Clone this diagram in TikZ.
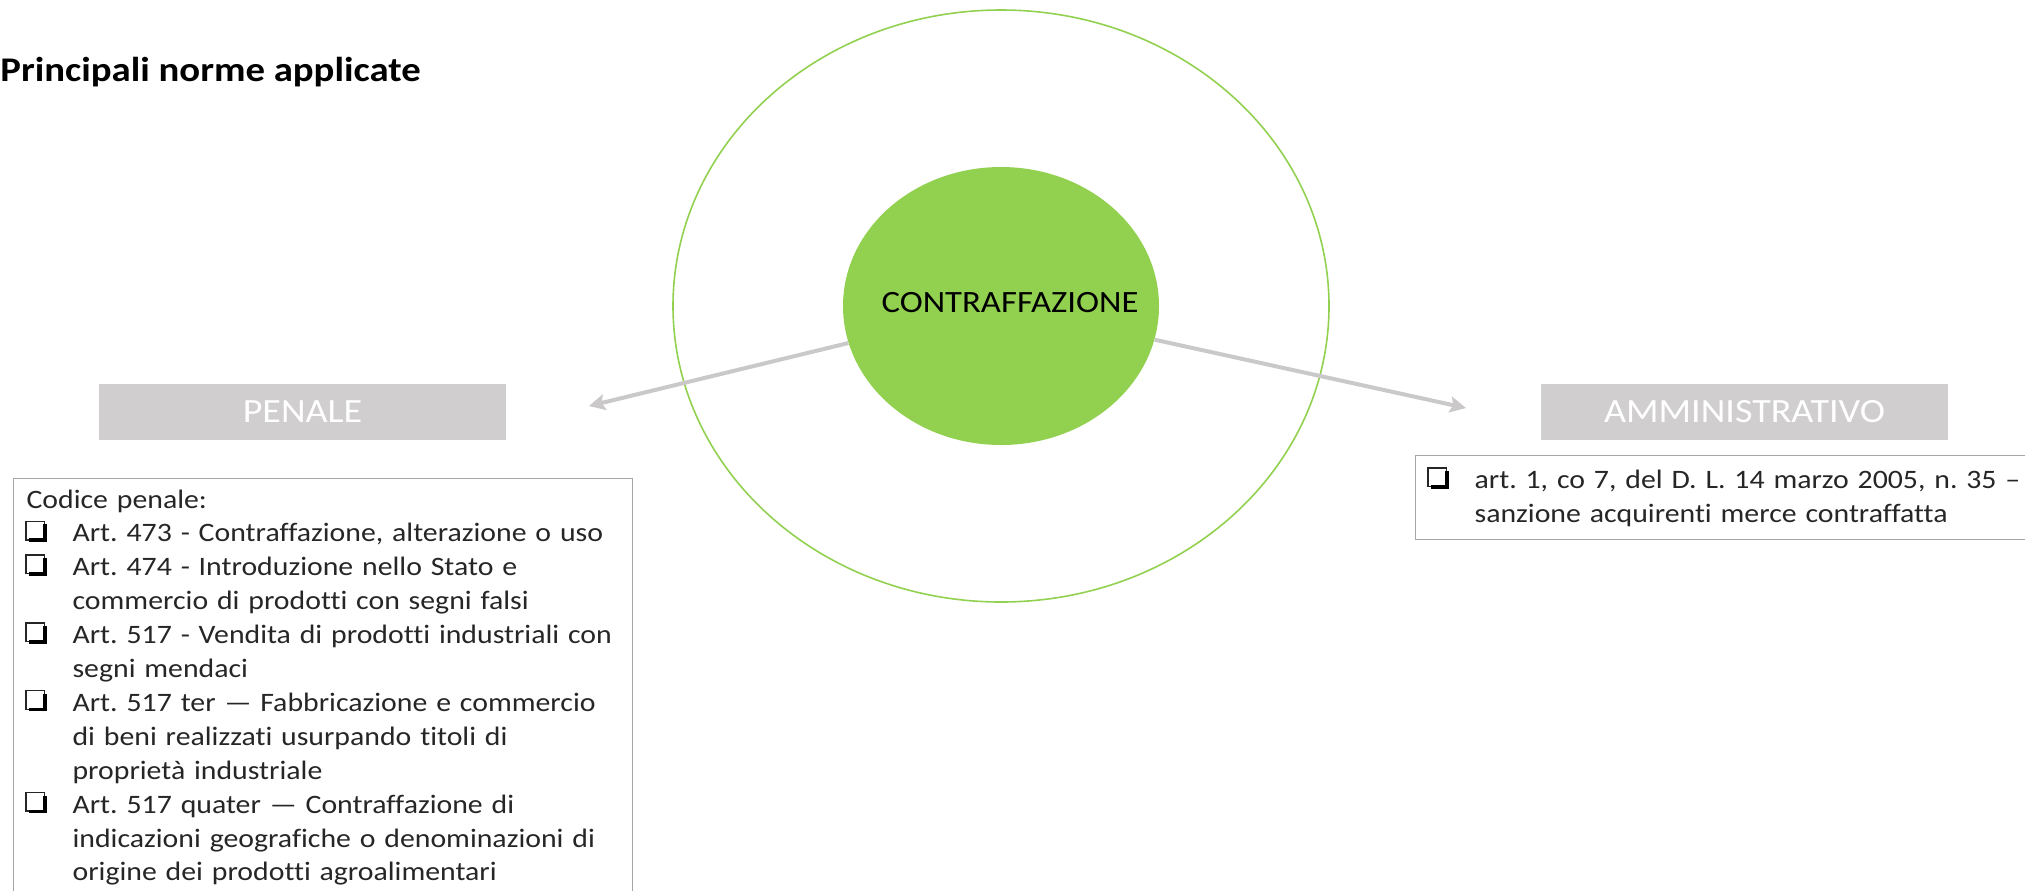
\documentclass[tikz,border=0pt]{standalone}
\usepackage{fontspec}
\setmainfont{Carlito}[FakeStretch=1.12,Ligatures=NoCommon]
\usepackage{tikz}
\usetikzlibrary{arrows.meta,shapes.geometric,positioning,calc}
\definecolor{verde}{HTML}{92D050}
\definecolor{grigio}{HTML}{D0CECE}
\definecolor{bordo}{HTML}{A6A6A6}
\frenchspacing
\newcommand{\quadretto}{{\setlength{\unitlength}{1pt}\linethickness{0.7pt}\setlength{\fboxrule}{0.7pt}%
\begin{picture}(10.5,10)
\put(0,1.4){\framebox(8.6,8.6){}}
\put(1.4,0){\color{black}\rule{8.6pt}{1.8pt}}
\put(8.2,0){\color{black}\rule{1.8pt}{8.8pt}}
\end{picture}}}
\newcommand{\voce}[1]{\noindent\hangindent=23pt\hangafter=1\makebox[23pt][l]{\quadretto}#1}

\begin{document}
\begin{tikzpicture}[x=0.5pt,y=-0.5pt,
  etichetta/.style={fill=grigio,text=white,minimum width=203.5pt,minimum height=28pt,inner sep=0pt,font=\fontsize{17}{20}\selectfont},
  riquadro/.style={draw=bordo,line width=0.6pt,text=black!85,align=left,anchor=north west,inner xsep=6.5pt,font=\fontsize{13.3}{16.95}\selectfont},
  freccia/.style={draw=grigio!97!black,line width=2pt,-{Stealth[length=8pt,width=8pt,inset=1.5pt]}}]
\useasboundingbox (0,0) rectangle (2025,890);
\clip (0,0) rectangle (2025,890);
\node[anchor=west,inner sep=0pt,font=\bfseries\fontsize{17.3}{20}\selectfont] (titolo) at (0,72) {Principali norme applicate};
\node[ellipse,draw=verde,line width=0.8pt,minimum width=328pt,minimum height=296pt] (anello) at (1001,306) {};
\node[ellipse,fill=verde,inner sep=0pt,minimum width=158pt,minimum height=139pt] (nucleo) at (1001,306) {};
\node[font=\fontsize{15.5}{18}\selectfont] (scritta) at (1010,303) {CONTRAFFAZIONE};
\node[etichetta] (penale) at (302.5,412) {PENALE};
\node[etichetta] (ammin) at (1744.5,411.5) {AMMINISTRATIVO};
\coordinate (puntaP) at (589,406);
\coordinate (puntaA) at (1466,408);
\draw[freccia] (nucleo) -- (puntaP);
\draw[freccia] (nucleo) -- (puntaA);
\node[riquadro,text width=296.5pt,inner ysep=5.5pt] (codice) at (13,478) {Codice penale:\par
\voce{Art. 473 - Contraffazione, alterazione o uso}\par
\voce{Art. 474 - Introduzione nello Stato e\newline commercio di prodotti con segni falsi}\par
\voce{Art. 517 - Vendita di prodotti industriali con\newline segni mendaci}\par
\voce{Art. 517 ter — Fabbricazione e commercio\newline di beni realizzati usurpando titoli di\newline proprietà industriale}\par
\voce{Art. 517 quater — Contraffazione di\newline indicazioni geografiche o denominazioni di\newline origine dei prodotti agroalimentari}\par\vspace*{12pt}};
\node[riquadro,text width=330pt,inner ysep=6.5pt] (decreto) at (1415,455) {\voce{art. 1, co 7, del D. L. 14 marzo 2005, n. 35 –\newline sanzione acquirenti merce contraffatta}\par};
\end{tikzpicture}
\end{document}
